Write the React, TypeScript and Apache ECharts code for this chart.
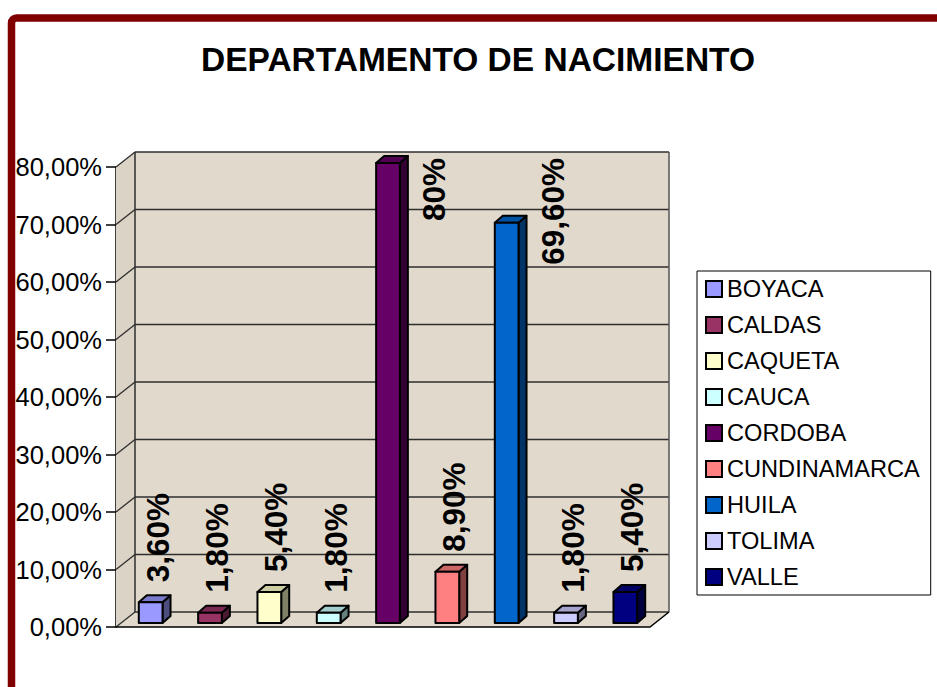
import React, { useEffect, useRef } from "react";
import * as echarts from "echarts";

const TITLE = "DEPARTAMENTO DE NACIMIENTO";
const categories = ["BOYACA", "CALDAS", "CAQUETA", "CAUCA", "CORDOBA", "CUNDINAMARCA", "HUILA", "TOLIMA", "VALLE"];
const values = [3.6, 1.8, 5.4, 1.8, 80, 8.9, 69.6, 1.8, 5.4];
const valueLabels = ["3,60%", "1,80%", "5,40%", "1,80%", "80%", "8,90%", "69,60%", "1,80%", "5,40%"];
const colors = ["#9999FF", "#993366", "#FFFFCC", "#CCFFFF", "#660066", "#FF8080", "#0066CC", "#CCCCFF", "#000080"];
const yTicks = [0, 10, 20, 30, 40, 50, 60, 70, 80];

const FONT = '"Liberation Sans", Arial, Helvetica, sans-serif';
const WALL_DX = 19;
const WALL_DY = -15;
const BAR_FX = 5;
const BAR_FY = -4;
const BAR_DX = 8;
const BAR_DY = -7;
const WALL_FILL = "#E0D9CC";
const SIDE_FILL = "#DBD4C6";
const GRID_COLOR = "#2E2E2E";
const LABEL_FONT_SIZE = 31.5;

function shade(hex: string, f: number): string {
  const h = hex.replace("#", "");
  const r = Math.round(parseInt(h.slice(0, 2), 16) * f);
  const g = Math.round(parseInt(h.slice(2, 4), 16) * f);
  const b = Math.round(parseInt(h.slice(4, 6), 16) * f);
  return `rgb(${r},${g},${b})`;
}

let measureCtx: CanvasRenderingContext2D | null = null;
function textWidth(text: string, font: string): number {
  if (!measureCtx) {
    const c = document.createElement("canvas");
    measureCtx = c.getContext("2d");
  }
  if (!measureCtx) return text.length * LABEL_FONT_SIZE * 0.6;
  measureCtx.font = font;
  return measureCtx.measureText(text).width;
}

export default function App() {
  const ref = useRef<HTMLDivElement>(null);

  useEffect(() => {
    if (!ref.current) return;
    const chart = echarts.init(ref.current, null, { renderer: "svg" });
    const yMax = yTicks[yTicks.length - 1];

    const wallsRender = (params: any, api: any) => {
      const cs = params.coordSys;
      const x0 = cs.x;
      const w = cs.width;
      const yTop = api.coord([0, yMax])[1];
      const yBase = api.coord([0, 0])[1];
      const children: any[] = [];
      children.push({
        type: "polygon",
        shape: { points: [[x0, yTop], [x0 + WALL_DX, yTop + WALL_DY], [x0 + WALL_DX, yBase + WALL_DY], [x0, yBase]] },
        style: { fill: SIDE_FILL },
      });
      children.push({
        type: "rect",
        shape: { x: x0 + WALL_DX, y: yTop + WALL_DY, width: w, height: yBase - yTop },
        style: { fill: WALL_FILL },
      });
      children.push({
        type: "polygon",
        shape: { points: [[x0, yBase], [x0 + WALL_DX, yBase + WALL_DY], [x0 + w + WALL_DX, yBase + WALL_DY], [x0 + w, yBase]] },
        style: { fill: WALL_FILL },
      });
      yTicks.forEach((t) => {
        const y = api.coord([0, t])[1];
        children.push({
          type: "line",
          shape: { x1: x0 + WALL_DX, y1: y + WALL_DY, x2: x0 + w + WALL_DX, y2: y + WALL_DY },
          style: { stroke: GRID_COLOR, lineWidth: 1.5 },
        });
        children.push({
          type: "line",
          shape: { x1: x0, y1: y, x2: x0 + WALL_DX, y2: y + WALL_DY },
          style: { stroke: GRID_COLOR, lineWidth: 1.3 },
        });
      });
      children.push({
        type: "line",
        shape: { x1: x0 + WALL_DX, y1: yTop + WALL_DY, x2: x0 + WALL_DX, y2: yBase + WALL_DY },
        style: { stroke: GRID_COLOR, lineWidth: 1.5 },
      });
      children.push({
        type: "line",
        shape: { x1: x0 + w + WALL_DX, y1: yTop + WALL_DY, x2: x0 + w + WALL_DX, y2: yBase + WALL_DY },
        style: { stroke: "#555", lineWidth: 1.5 },
      });
      children.push({
        type: "polyline",
        shape: { points: [[x0, yBase], [x0 + w, yBase], [x0 + w + WALL_DX, yBase + WALL_DY]] },
        style: { stroke: "#000", lineWidth: 1.5, fill: null },
      });
      return { type: "group", children };
    };

    const barRender = (params: any, api: any) => {
      const idx = api.value(0);
      const v = api.value(1);
      const top = api.coord([idx, v]);
      const base = api.coord([idx, 0]);
      const band = api.size([1, 0])[0];
      const bw = band * 0.4;
      const color = api.visual("color");
      const xL = top[0] + BAR_FX - bw / 2;
      const xR = xL + bw;
      const yT = top[1] + BAR_FY;
      const yB = base[1] + BAR_FY;
      const stroke = { stroke: "#000", lineWidth: 2, lineJoin: "round" };
      const children: any[] = [
        {
          type: "polygon",
          shape: { points: [[xR, yT], [xR + BAR_DX, yT + BAR_DY], [xR + BAR_DX, yB + BAR_DY], [xR, yB]] },
          style: { fill: shade(color, 0.5), ...stroke },
        },
        {
          type: "polygon",
          shape: { points: [[xL, yT], [xL + BAR_DX, yT + BAR_DY], [xR + BAR_DX, yT + BAR_DY], [xR, yT]] },
          style: { fill: shade(color, 0.8), ...stroke },
        },
        {
          type: "rect",
          shape: { x: xL, y: yT, width: bw, height: yB - yT },
          style: { fill: color, ...stroke },
        },
      ];
      const label = valueLabels[idx];
      const font = `bold ${LABEL_FONT_SIZE}px ${FONT}`;
      const len = textWidth(label, font);
      const wallTop = api.coord([0, yMax])[1] + WALL_DY;
      const cx = top[0] + BAR_FX + 7;
      const bottom = yT - 20;
      if (bottom - len < wallTop) {
        children.push({
          type: "text",
          x: cx + 39,
          y: wallTop + 6,
          rotation: Math.PI / 2,
          z2: 10,
          style: { text: label, font, fill: "#000", align: "right", verticalAlign: "middle" },
        });
      } else {
        children.push({
          type: "text",
          x: cx,
          y: bottom,
          rotation: Math.PI / 2,
          z2: 10,
          style: { text: label, font, fill: "#000", align: "left", verticalAlign: "middle" },
        });
      }
      return { type: "group", children };
    };

    const barSeries = categories.map((name, i) => ({
      type: "custom",
      name,
      data: [[i, values[i]]],
      encode: { x: 0, y: 1 },
      itemStyle: { color: colors[i] },
      renderItem: barRender,
      z: 3,
      silent: true,
    }));

    chart.setOption({
      animation: false,
      backgroundColor: "#FFFFFF",
      graphic: [
        {
          type: "rect",
          shape: { x: 11.5, y: 18, width: 1200, height: 1200, r: 5 },
          style: { fill: null, stroke: "#800000", lineWidth: 7.5 },
          z: 100,
        },
        {
          type: "text",
          x: 478,
          y: 59,
          style: {
            text: TITLE,
            font: `bold 33.5px ${FONT}`,
            fill: "#000",
            align: "center",
            verticalAlign: "middle",
          },
        },
      ],
      legend: {
        orient: "vertical",
        left: 697,
        top: 271,
        padding: [6, 11, 6, 8],
        borderColor: "#000",
        borderWidth: 1,
        itemWidth: 16,
        itemHeight: 16,
        itemGap: 12,
        itemTextGap: 6,
        icon: "rect",
        selectedMode: false,
        textStyle: { fontSize: 23.6, fontFamily: FONT, color: "#000", lineHeight: 24 },
        data: categories.map((name, i) => ({
          name,
          itemStyle: { color: colors[i], borderColor: "#000", borderWidth: 2 },
        })),
      },
      grid: { left: 116, top: 167, width: 534, height: 460, containLabel: false },
      xAxis: {
        type: "category",
        data: categories,
        boundaryGap: true,
        axisLine: { show: false },
        axisTick: { show: false },
        axisLabel: { show: false },
        splitLine: { show: false },
      },
      yAxis: {
        type: "value",
        min: 0,
        max: yMax,
        interval: 10,
        axisLine: { show: true, lineStyle: { color: "#000", width: 1.5 } },
        axisTick: { show: true, length: 10, lineStyle: { color: "#000", width: 1.5 } },
        axisLabel: {
          margin: 14,
          color: "#000",
          fontSize: 25.5,
          fontFamily: FONT,
          formatter: (v: number) => v.toFixed(2).replace(".", ",") + "%",
        },
        splitLine: { show: false },
      },
      series: [
        {
          type: "custom",
          name: "__walls",
          data: [[0, 0]],
          encode: { x: 0, y: 1 },
          renderItem: wallsRender,
          silent: true,
          z: 1,
        },
        ...barSeries,
      ],
    });

    return () => chart.dispose();
  }, []);

  return (
    <div
      ref={ref}
      style={{ position: "fixed", left: 0, top: 0, width: 937, height: 687, background: "#fff" }}
    />
  );
}
